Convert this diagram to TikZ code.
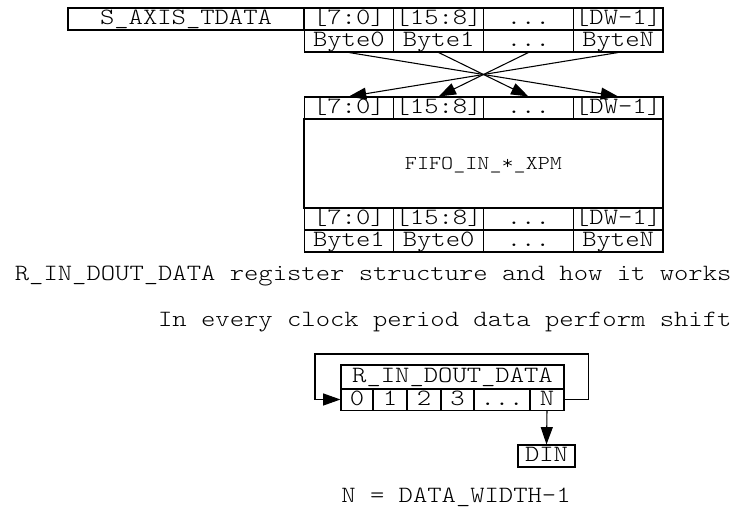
\documentclass[tikz,border=0pt]{standalone}
\usepackage{fontspec}
\setmonofont{Latin Modern Mono Light}[FakeStretch=1.17]
\usetikzlibrary{arrows.meta}

\begin{document}
\begin{tikzpicture}[x=0.75pt, y=-0.75pt, line width=0.8pt,
    every node/.style={inner sep=0pt, text height=12.5pt, text depth=3.5pt, font=\ttfamily\fontsize{17.5}{20}\selectfont},
    cell/.style={draw, minimum width=67.3pt, minimum height=16.5pt},
    arr/.style={-{Triangle[length=13pt,width=9pt]}}]
    \useasboundingbox (0,0) rectangle (754,520);
    % input word
    \node[draw, minimum width=177pt, minimum height=16.5pt] (axis) at (186,19) {S\_AXIS\_TDATA};
    \foreach \i/\bits/\byte in {0/{[7:0]}/Byte0,1/{[15:8]}/Byte1,2/{...}/{...},3/{[DW-1]}/ByteN} {
        \node[cell] (t\i) at ({348.9+89.75*\i},19) {\bits};
        \node[cell] (b\i) at ({348.9+89.75*\i},41) {\byte};
    }
    % fifo
    \foreach \i/\bits/\byte in {0/{[7:0]}/Byte1,1/{[15:8]}/Byte0,2/{...}/{...},3/{[DW-1]}/ByteN} {
        \node[cell] (m\i) at ({348.9+89.75*\i},108) {\bits};
        \node[cell] (f\i) at ({348.9+89.75*\i},219) {\bits};
        \node[cell] (g\i) at ({348.9+89.75*\i},241) {\byte};
    }
    \node[draw, minimum width=269.25pt, minimum height=66.75pt, font=\ttfamily\fontsize{14.75}{17}\selectfont] (fifo) at (483.5,163.5) {FIFO\_IN\_*\_XPM};
    \draw[arr] (b0.south) -- (m3.north);
    \draw[arr] (b1.south) -- (m2.north);
    \draw[arr] (b2.south) -- (m1.north);
    \draw[arr] (b3.south) -- (m0.north);
    % notes
    \node[anchor=east] (note1) at (732,275) {R\_IN\_DOUT\_DATA register structure and how it works};
    \node[anchor=east] (note2) at (732,321) {In every clock period data perform shift};
    % shift register
    \node[draw, minimum width=167.25pt, minimum height=18pt] (reg) at (452.5,377) {R\_IN\_DOUT\_DATA};
    \foreach \i/\x/\w/\lbl in {0/357/32/0,1/390/34/1,2/424/34/2,3/457.5/33/3,4/502/56/{...},5/547/34/N} {
        \node[draw, minimum width=\w*0.75pt, minimum height=15.75pt] (c\i) at (\x,399.5) {\lbl};
    }
    \coordinate (loop) at (315,354);
    \draw[arr] (c5.east) -- ++(24,0) |- (loop) |- (c0.west);
    \node[draw, minimum width=42.75pt, minimum height=16.5pt] (din) at (546.5,456) {DIN};
    \draw[arr] (c5.south) -- (din.north);
    \node (nw) at (456,497) {N = DATA\_WIDTH-1};
\end{tikzpicture}
\end{document}
